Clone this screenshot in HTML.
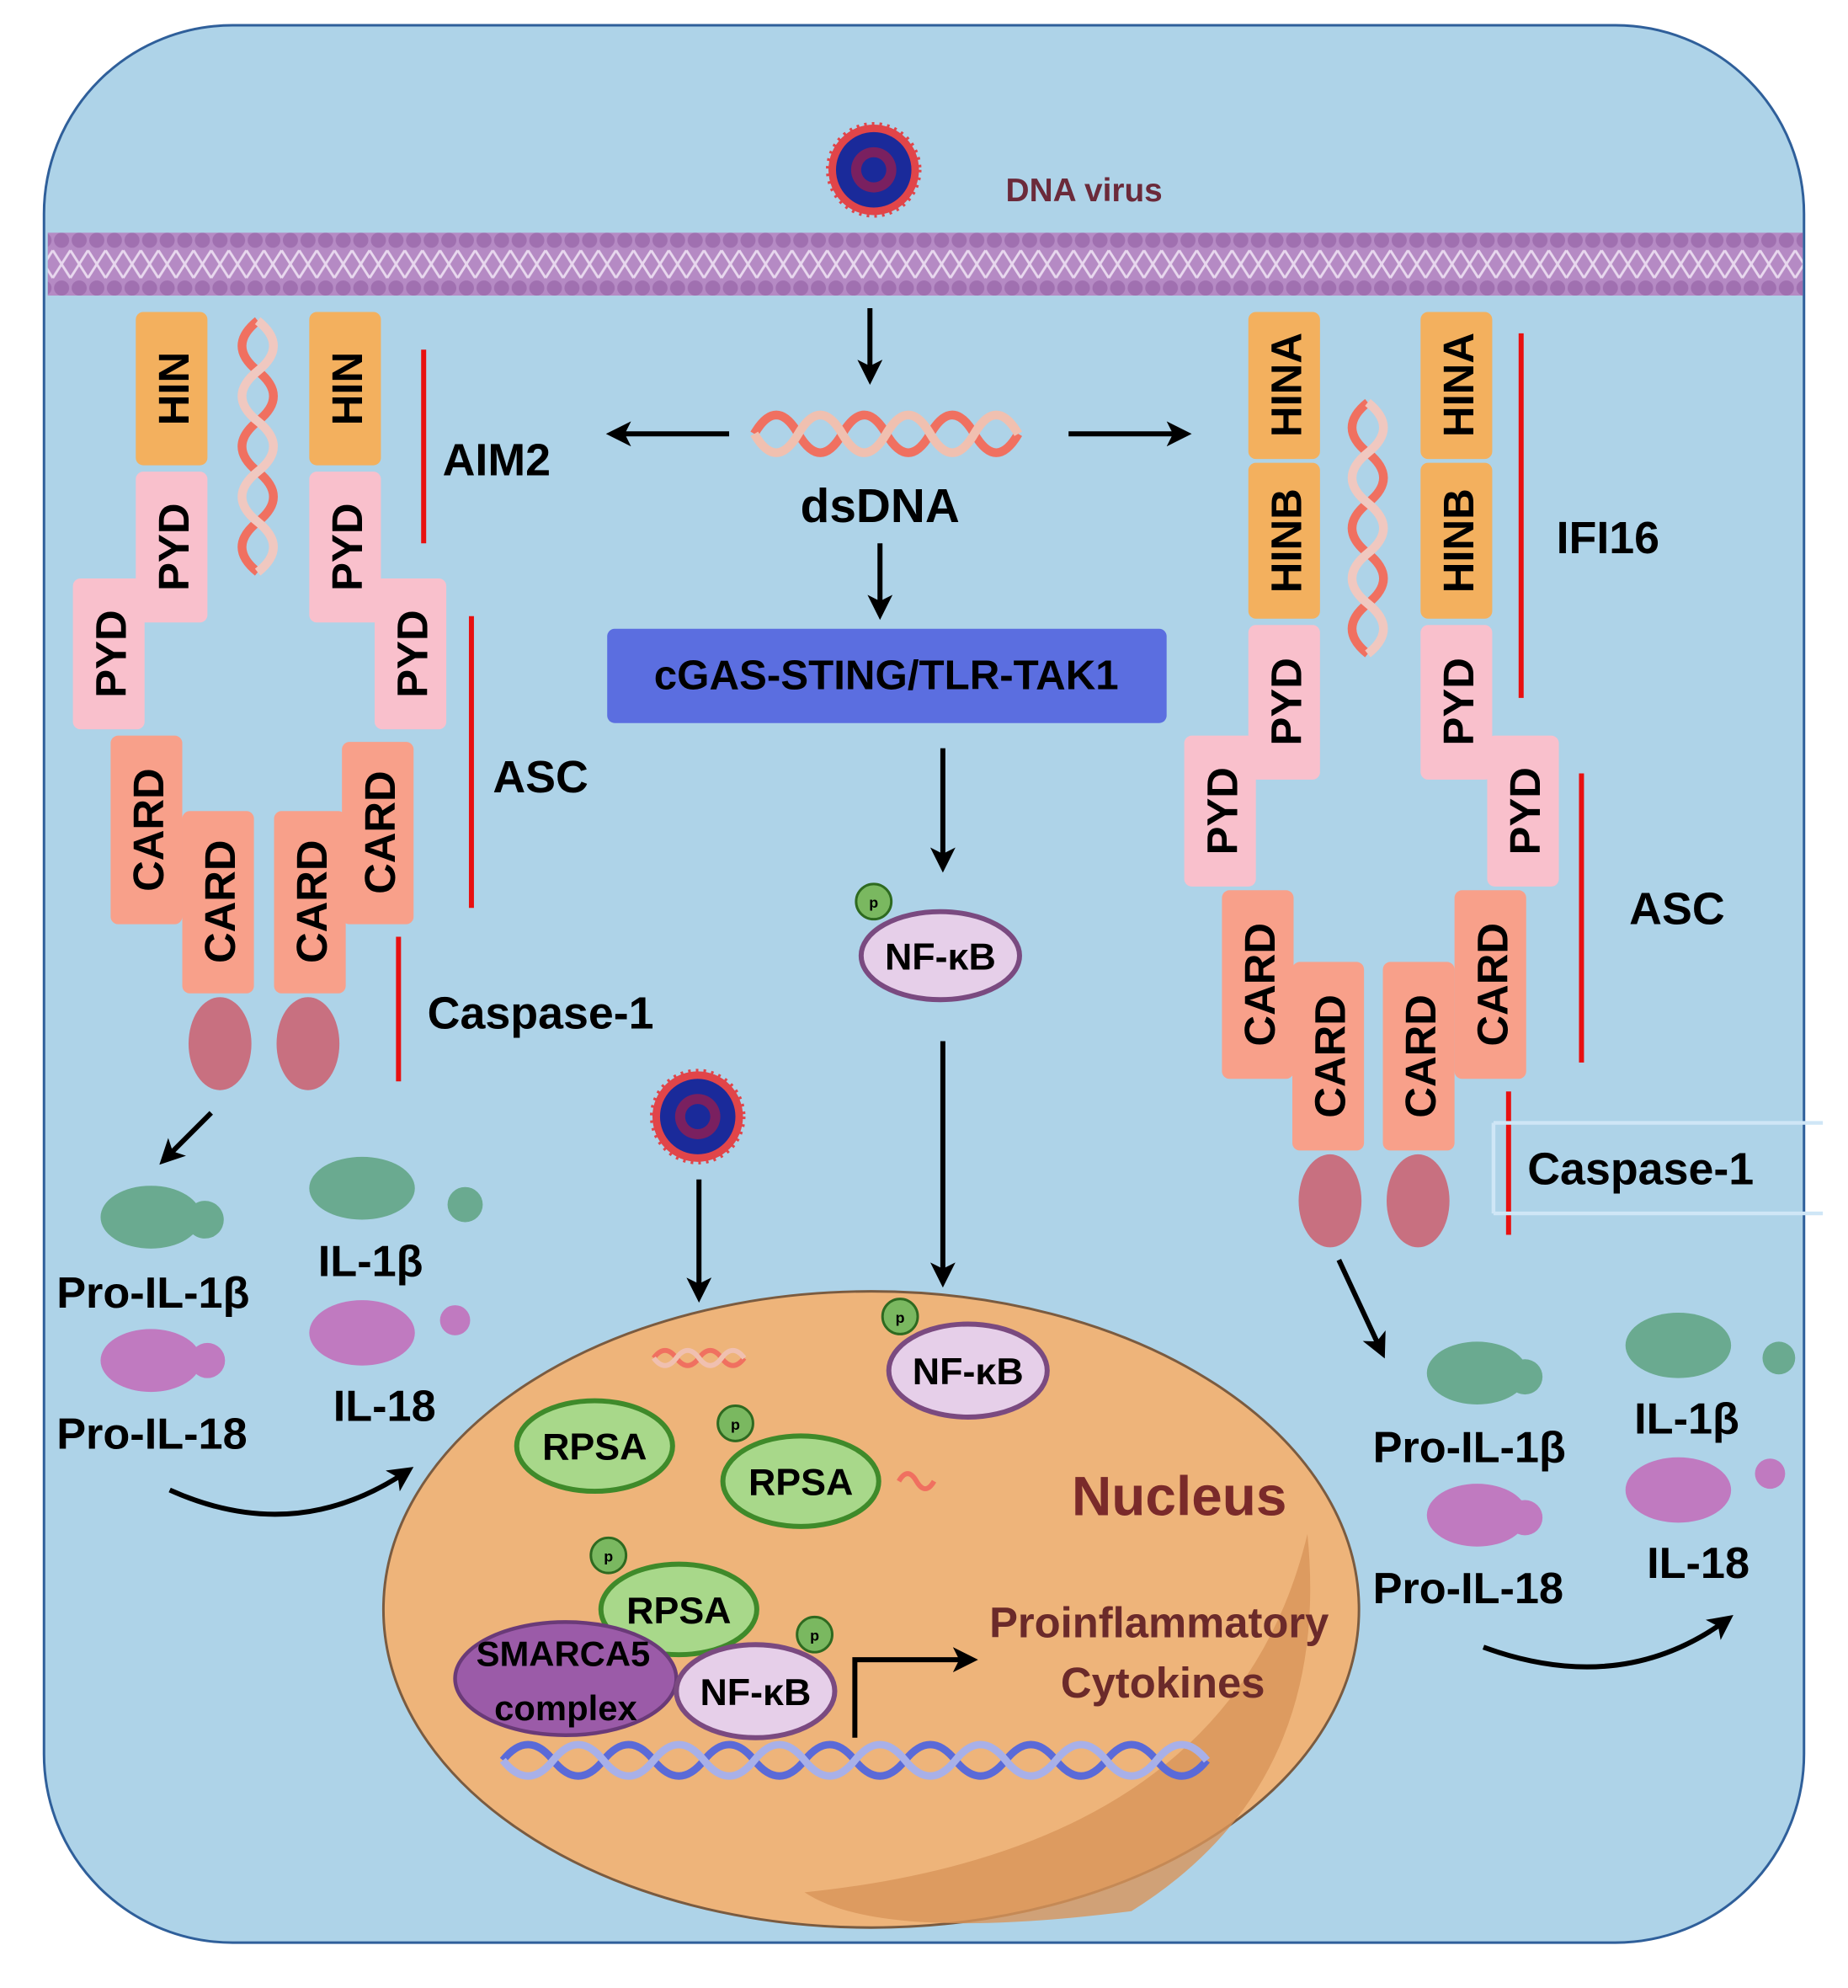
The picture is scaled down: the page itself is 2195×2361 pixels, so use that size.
<!DOCTYPE html>
<html><head><meta charset="utf-8"><style>
html,body{margin:0;padding:0;background:#fff}
svg{display:block}
text{font-family:"Liberation Sans",sans-serif;font-weight:bold}
</style></head><body>
<svg width="2195" height="2361" viewBox="0 0 1470 1581" xmlns="http://www.w3.org/2000/svg">
<defs>
<marker id="ah" markerWidth="20" markerHeight="20" refX="14" refY="10" orient="auto" markerUnits="userSpaceOnUse" viewBox="0 0 20 20">
<path d="M0,0 L20,10 L0,20 L5,10 z" fill="#000"/></marker>
<pattern id="mem" width="14" height="50" patternUnits="userSpaceOnUse" x="0" y="185">
<rect width="14" height="50" fill="#b58ac4"/>
<circle cx="7" cy="6" r="6" fill="#a070b0"/>
<circle cx="7" cy="44" r="6" fill="#a070b0"/>
<path d="M0,14 L14,36 M14,14 L0,36" stroke="#e8d8ee" stroke-width="2"/>
</pattern>
</defs>
<rect width="1470" height="1581" fill="#fff"/>
<rect x="35" y="20" width="1400" height="1525" rx="150" fill="#aed3e8" stroke="#2f5f9a" stroke-width="2"/>
<rect x="38" y="185" width="1396" height="50" fill="url(#mem)"/>

<g>
<circle cx="695" cy="135" r="36" fill="#e22" opacity=".8" stroke="#e22" stroke-width="4" stroke-dasharray="2 4"/>
<circle cx="695" cy="135" r="30" fill="#1a2a9a"/><circle cx="695" cy="135" r="18" fill="#7a2060"/><circle cx="695" cy="135" r="10" fill="#1a2a9a"/>
<circle cx="555" cy="888" r="36" fill="#e22" opacity=".8" stroke="#e22" stroke-width="4" stroke-dasharray="2 4"/>
<circle cx="555" cy="888" r="30" fill="#1a2a9a"/><circle cx="555" cy="888" r="18" fill="#7a2060"/><circle cx="555" cy="888" r="10" fill="#1a2a9a"/>
</g>
<text x="800" y="160" font-size="26" fill="#6b2a3a" font-weight="normal">DNA virus</text>

<g fill="none" stroke-width="7">
<path d="M600 345 Q617.5 315 635 345 T670 345 T705 345 T740 345 T775 345 T810 345" stroke="#f07060"/>
<path d="M600 345 Q617.5 375 635 345 T670 345 T705 345 T740 345 T775 345 T810 345" stroke="#f0c0b0"/>
</g>
<text x="700" y="415" font-size="38" text-anchor="middle">dsDNA</text>

<g stroke="#000" stroke-width="4" marker-end="url(#ah)">
<line x1="692" y1="245" x2="692" y2="300"/>
<line x1="580" y1="345" x2="488" y2="345"/>
<line x1="850" y1="345" x2="942" y2="345"/>
<line x1="700" y1="432" x2="700" y2="487"/>
<line x1="750" y1="595" x2="750" y2="688"/>
<line x1="750" y1="828" x2="750" y2="1018"/>
<line x1="556" y1="938" x2="556" y2="1030"/>
<line x1="168" y1="885" x2="131" y2="922"/>
<line x1="1065" y1="1002" x2="1099" y2="1075"/>
</g>
<g fill="none" stroke="#000" stroke-width="4" marker-end="url(#ah)">
<path d="M135 1185 Q235 1230 324 1170"/>
<path d="M1180 1310 Q1290 1350 1374 1288"/>
</g>

<rect x="483" y="500" width="445" height="75" rx="6" fill="#5b6ee0"/>
<text x="705" y="548" font-size="33" text-anchor="middle">cGAS-STING/TLR-TAK1</text>

<ellipse cx="748" cy="760" rx="63" ry="35" fill="#e6cfe9" stroke="#7a4a80" stroke-width="4"/>
<circle cx="695" cy="717" r="14" fill="#7ab860" stroke="#2e6a20" stroke-width="2"/><text x="695" y="722" font-size="12" text-anchor="middle" font-weight="normal">p</text>
<text x="748" y="771" font-size="30" text-anchor="middle" font-weight="normal">NF-κB</text>

<ellipse cx="693" cy="1280" rx="388" ry="253" fill="#eeb47a" stroke="#7a5b40" stroke-width="2"/>
<path d="M1040 1220 Q1060 1420 900 1520 Q700 1545 640 1505 Q980 1470 1040 1220 z" fill="#d8955a" opacity=".8"/>
<g fill="none" stroke-width="4">
<path d="M520 1080 Q529 1068 538 1080 T556 1080 T574 1080 T592 1080" stroke="#f07060"/>
<path d="M520 1080 Q529 1092 538 1080 T556 1080 T574 1080 T592 1080" stroke="#f0c0b0"/>
<path d="M715 1178 Q722 1166 729 1178 T743 1178" stroke="#f07060"/>
</g>
<g fill="none" stroke-width="6">
<path d="M400 1400 Q420 1375 440 1400 T480 1400 T520 1400 T560 1400 T600 1400 T640 1400 T680 1400 T720 1400 T760 1400 T800 1400 T840 1400 T880 1400 T920 1400 T960 1400" stroke="#5a6ad8"/>
<path d="M400 1400 Q420 1425 440 1400 T480 1400 T520 1400 T560 1400 T600 1400 T640 1400 T680 1400 T720 1400 T760 1400 T800 1400 T840 1400 T880 1400 T920 1400 T960 1400" stroke="#a8b0e8"/>
</g>
<path d="M680 1382 L680 1320 L772 1320" fill="none" stroke="#000" stroke-width="4" marker-end="url(#ah)"/>
<text x="938" y="1205" font-size="44" fill="#7a2a2a" text-anchor="middle">Nucleus</text>
<text x="922" y="1302" font-size="34" fill="#6b2a2a" text-anchor="middle">Proinflammatory</text>
<text x="925" y="1350" font-size="34" fill="#6b2a2a" text-anchor="middle">Cytokines</text>

<g font-size="30" text-anchor="middle" font-weight="normal">
<ellipse cx="770" cy="1090" rx="63" ry="37" fill="#e6cfe9" stroke="#7a4a80" stroke-width="4"/>
<text x="770" y="1101">NF-κB</text>
<ellipse cx="473" cy="1150" rx="62" ry="36" fill="#a8d88a" stroke="#3f8a2a" stroke-width="4"/>
<text x="473" y="1161">RPSA</text>
<ellipse cx="637" cy="1178" rx="62" ry="36" fill="#a8d88a" stroke="#3f8a2a" stroke-width="4"/>
<text x="637" y="1189">RPSA</text>
<ellipse cx="540" cy="1280" rx="62" ry="36" fill="#a8d88a" stroke="#3f8a2a" stroke-width="4"/>
<text x="540" y="1291">RPSA</text>
<ellipse cx="450" cy="1335" rx="88" ry="45" fill="#9b5ba8" stroke="#6a3a78" stroke-width="3"/>
<text x="448" y="1325" font-size="28">SMARCA5</text><text x="450" y="1368" font-size="28">complex</text>
<ellipse cx="601" cy="1345" rx="63" ry="37" fill="#e6cfe9" stroke="#7a4a80" stroke-width="4"/>
<text x="601" y="1356">NF-κB</text>
</g>
<g font-size="12" text-anchor="middle" font-weight="normal">
<circle cx="716" cy="1047" r="14" fill="#7ab860" stroke="#2e6a20" stroke-width="2"/><text x="716" y="1052">p</text>
<circle cx="585" cy="1132" r="14" fill="#7ab860" stroke="#2e6a20" stroke-width="2"/><text x="585" y="1137">p</text>
<circle cx="484" cy="1237" r="14" fill="#7ab860" stroke="#2e6a20" stroke-width="2"/><text x="484" y="1242">p</text>
<circle cx="648" cy="1300" r="14" fill="#7ab860" stroke="#2e6a20" stroke-width="2"/><text x="648" y="1305">p</text>
</g>

<g fill="none" stroke-width="7">
<path d="M205 255 Q180 275 205 295 T205 335 T205 375 T205 415 T205 455" stroke="#f07060"/>
<path d="M205 255 Q230 275 205 295 T205 335 T205 375 T205 415 T205 455" stroke="#f0c8c0"/>
<path d="M1088 320 Q1063 340 1088 360 T1088 400 T1088 440 T1088 480 T1088 520" stroke="#f07060"/>
<path d="M1088 320 Q1113 340 1088 360 T1088 400 T1088 440 T1088 480 T1088 520" stroke="#f0c8c0"/>
</g>

<g font-size="34">
<rect x="108" y="248" width="57" height="122" rx="6" fill="#f3b05e"/><text transform="translate(150,309) rotate(-90)" text-anchor="middle">HIN</text>
<rect x="246" y="248" width="57" height="122" rx="6" fill="#f3b05e"/><text transform="translate(288,309) rotate(-90)" text-anchor="middle">HIN</text>
<rect x="108" y="375" width="57" height="120" rx="6" fill="#f9c0cc"/><text transform="translate(150,435) rotate(-90)" text-anchor="middle">PYD</text>
<rect x="246" y="375" width="57" height="120" rx="6" fill="#f9c0cc"/><text transform="translate(288,435) rotate(-90)" text-anchor="middle">PYD</text>
<rect x="58" y="460" width="57" height="120" rx="6" fill="#f9c0cc"/><text transform="translate(100,520) rotate(-90)" text-anchor="middle">PYD</text>
<rect x="298" y="460" width="57" height="120" rx="6" fill="#f9c0cc"/><text transform="translate(340,520) rotate(-90)" text-anchor="middle">PYD</text>
<rect x="88" y="585" width="57" height="150" rx="6" fill="#f8a08a"/><text transform="translate(130,660) rotate(-90)" text-anchor="middle">CARD</text>
<rect x="272" y="590" width="57" height="145" rx="6" fill="#f8a08a"/><text transform="translate(314,662) rotate(-90)" text-anchor="middle">CARD</text>
<rect x="145" y="645" width="57" height="145" rx="6" fill="#f8a08a"/><text transform="translate(187,717) rotate(-90)" text-anchor="middle">CARD</text>
<rect x="218" y="645" width="57" height="145" rx="6" fill="#f8a08a"/><text transform="translate(260,717) rotate(-90)" text-anchor="middle">CARD</text>
<rect x="993" y="248" width="57" height="117" rx="6" fill="#f3b05e"/><text transform="translate(1035,306) rotate(-90)" text-anchor="middle">HINA</text>
<rect x="1130" y="248" width="57" height="117" rx="6" fill="#f3b05e"/><text transform="translate(1172,306) rotate(-90)" text-anchor="middle">HINA</text>
<rect x="993" y="368" width="57" height="124" rx="6" fill="#f3b05e"/><text transform="translate(1035,430) rotate(-90)" text-anchor="middle">HINB</text>
<rect x="1130" y="368" width="57" height="124" rx="6" fill="#f3b05e"/><text transform="translate(1172,430) rotate(-90)" text-anchor="middle">HINB</text>
<rect x="993" y="497" width="57" height="123" rx="6" fill="#f9c0cc"/><text transform="translate(1035,558) rotate(-90)" text-anchor="middle">PYD</text>
<rect x="1130" y="497" width="57" height="123" rx="6" fill="#f9c0cc"/><text transform="translate(1172,558) rotate(-90)" text-anchor="middle">PYD</text>
<rect x="942" y="585" width="57" height="120" rx="6" fill="#f9c0cc"/><text transform="translate(984,645) rotate(-90)" text-anchor="middle">PYD</text>
<rect x="1183" y="585" width="57" height="120" rx="6" fill="#f9c0cc"/><text transform="translate(1225,645) rotate(-90)" text-anchor="middle">PYD</text>
<rect x="972" y="708" width="57" height="150" rx="6" fill="#f8a08a"/><text transform="translate(1014,783) rotate(-90)" text-anchor="middle">CARD</text>
<rect x="1157" y="708" width="57" height="150" rx="6" fill="#f8a08a"/><text transform="translate(1199,783) rotate(-90)" text-anchor="middle">CARD</text>
<rect x="1028" y="765" width="57" height="150" rx="6" fill="#f8a08a"/><text transform="translate(1070,840) rotate(-90)" text-anchor="middle">CARD</text>
<rect x="1100" y="765" width="57" height="150" rx="6" fill="#f8a08a"/><text transform="translate(1142,840) rotate(-90)" text-anchor="middle">CARD</text>
</g>
<g fill="#c87080">
<ellipse cx="175" cy="830" rx="25" ry="37"/><ellipse cx="245" cy="830" rx="25" ry="37"/>
<ellipse cx="1058" cy="955" rx="25" ry="37"/><ellipse cx="1128" cy="955" rx="25" ry="37"/>
</g>
<g stroke="#e81010" stroke-width="4">
<line x1="337" y1="278" x2="337" y2="432"/><line x1="375" y1="490" x2="375" y2="722"/><line x1="317" y1="745" x2="317" y2="860"/>
<line x1="1210" y1="265" x2="1210" y2="555"/><line x1="1258" y1="615" x2="1258" y2="845"/><line x1="1200" y1="868" x2="1200" y2="982"/>
</g>
<path d="M1188 893 L1450 893 M1188 965 L1450 965 M1188 893 L1188 965" stroke="#cfe6f6" stroke-width="3" fill="none"/>
<g font-size="36">
<text x="352" y="378">AIM2</text><text x="392" y="630">ASC</text><text x="340" y="818">Caspase-1</text>
<text x="1238" y="440">IFI16</text><text x="1296" y="735">ASC</text><text x="1215" y="942">Caspase-1</text>
</g>

<g>
<ellipse cx="120" cy="968" rx="40" ry="25" fill="#6aaa90"/><circle cx="163" cy="970" r="15" fill="#6aaa90"/>
<ellipse cx="288" cy="945" rx="42" ry="25" fill="#6aaa90"/><circle cx="370" cy="958" r="14" fill="#6aaa90"/>
<ellipse cx="120" cy="1082" rx="40" ry="25" fill="#c07ac0"/><circle cx="165" cy="1082" r="14" fill="#c07ac0"/>
<ellipse cx="288" cy="1060" rx="42" ry="26" fill="#c07ac0"/><circle cx="362" cy="1050" r="12" fill="#c07ac0"/>
<ellipse cx="1175" cy="1092" rx="40" ry="25" fill="#6aaa90"/><circle cx="1213" cy="1095" r="14" fill="#6aaa90"/>
<ellipse cx="1335" cy="1070" rx="42" ry="26" fill="#6aaa90"/><circle cx="1415" cy="1080" r="13" fill="#6aaa90"/>
<ellipse cx="1175" cy="1205" rx="40" ry="25" fill="#c07ac0"/><circle cx="1213" cy="1207" r="14" fill="#c07ac0"/>
<ellipse cx="1335" cy="1185" rx="42" ry="26" fill="#c07ac0"/><circle cx="1408" cy="1172" r="12" fill="#c07ac0"/>
</g>
<g font-size="35">
<text x="45" y="1040">Pro-IL-1β</text><text x="253" y="1015">IL-1β</text>
<text x="45" y="1152">Pro-IL-18</text><text x="265" y="1130">IL-18</text>
<text x="1092" y="1163">Pro-IL-1β</text><text x="1300" y="1140">IL-1β</text>
<text x="1092" y="1275">Pro-IL-18</text><text x="1310" y="1255">IL-18</text>
</g>
</svg>
</body></html>
